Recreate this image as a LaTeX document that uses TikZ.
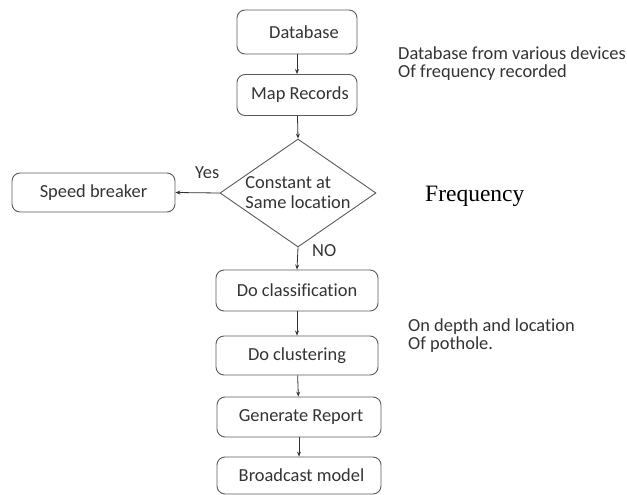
\documentclass[tikz,border=0pt]{standalone}
\usepackage{fontspec}
\setmainfont{Carlito}[Ligatures=NoCommon]
\newfontfamily\serifface{Liberation Serif}
\usetikzlibrary{shapes.geometric,arrows.meta}
\definecolor{txt}{HTML}{333333}
\definecolor{ln}{HTML}{5A5A5A}
\tikzset{
  stepbox/.style={draw=ln, line width=0.9pt, rounded corners=8pt, inner sep=0pt, text=txt,
    font=\fontsize{18.4}{18}\selectfont},
  decbox/.style={draw=ln, line width=0.9pt, diamond, inner sep=0pt, text=txt, align=left,
    minimum width=156pt, minimum height=108pt, aspect=1.444, font=\fontsize{18.4}{20}\selectfont},
  flow/.style={draw=black!80, line width=0.8pt, -{Stealth[length=5pt,width=4pt]}},
  note/.style={anchor=west, align=left, text=txt, inner sep=0pt, font=\fontsize{18.4}{18}\selectfont},
}
\begin{document}
\begin{tikzpicture}[x=1pt,y=-1pt]
\useasboundingbox (0,0) rectangle (627,495);
\node[stepbox, minimum width=120pt, minimum height=44pt] (db) at (297,32) {\hspace{14pt}Database};
\node[stepbox, minimum width=120pt, minimum height=41pt] (map) at (297,95) {\hspace{6pt}Map Records};
\node[decbox] (dec) at (298,193) {Constant at\\Same location};
\node[stepbox, minimum width=163pt, minimum height=39pt] (sb) at (93.5,192.5) {Speed breaker};
\node[stepbox, minimum width=162pt, minimum height=41pt] (cls) at (297,290.5) {Do classification\hspace{19pt}};
\node[stepbox, minimum width=162pt, minimum height=39pt] (clu) at (297,355.5) {Do clustering\hspace{20pt}};
\node[stepbox, minimum width=164pt, minimum height=40pt] (gen) at (299,417) {\hspace{4pt}Generate Report};
\node[stepbox, minimum width=164pt, minimum height=37pt] (bc) at (299,475.5) {\hspace{5pt}Broadcast model};
\draw[flow] (db) -- (map);
\draw[flow] (map) -- (dec.north);
\draw[flow] (dec.west) -- (sb.east);
\draw[flow] (dec.south) -- (cls.north);
\draw[flow] (cls) -- (clu);
\draw[flow] (clu) -- (gen);
\draw[flow] (gen) -- (bc);
\node[note] (yes) at (195,173) {Yes};
\node[note] (no) at (312,251) {NO};
\node[note] (n1) at (398,64) {Database from various devices\\Of frequency recorded};
\node[note] (n2) at (408,336) {On depth and location\\Of pothole.};
\node[anchor=west, inner sep=0pt, font=\serifface\fontsize{23.5}{23.5}\selectfont] (fq) at (425,196) {Frequency};
\end{tikzpicture}
\end{document}
